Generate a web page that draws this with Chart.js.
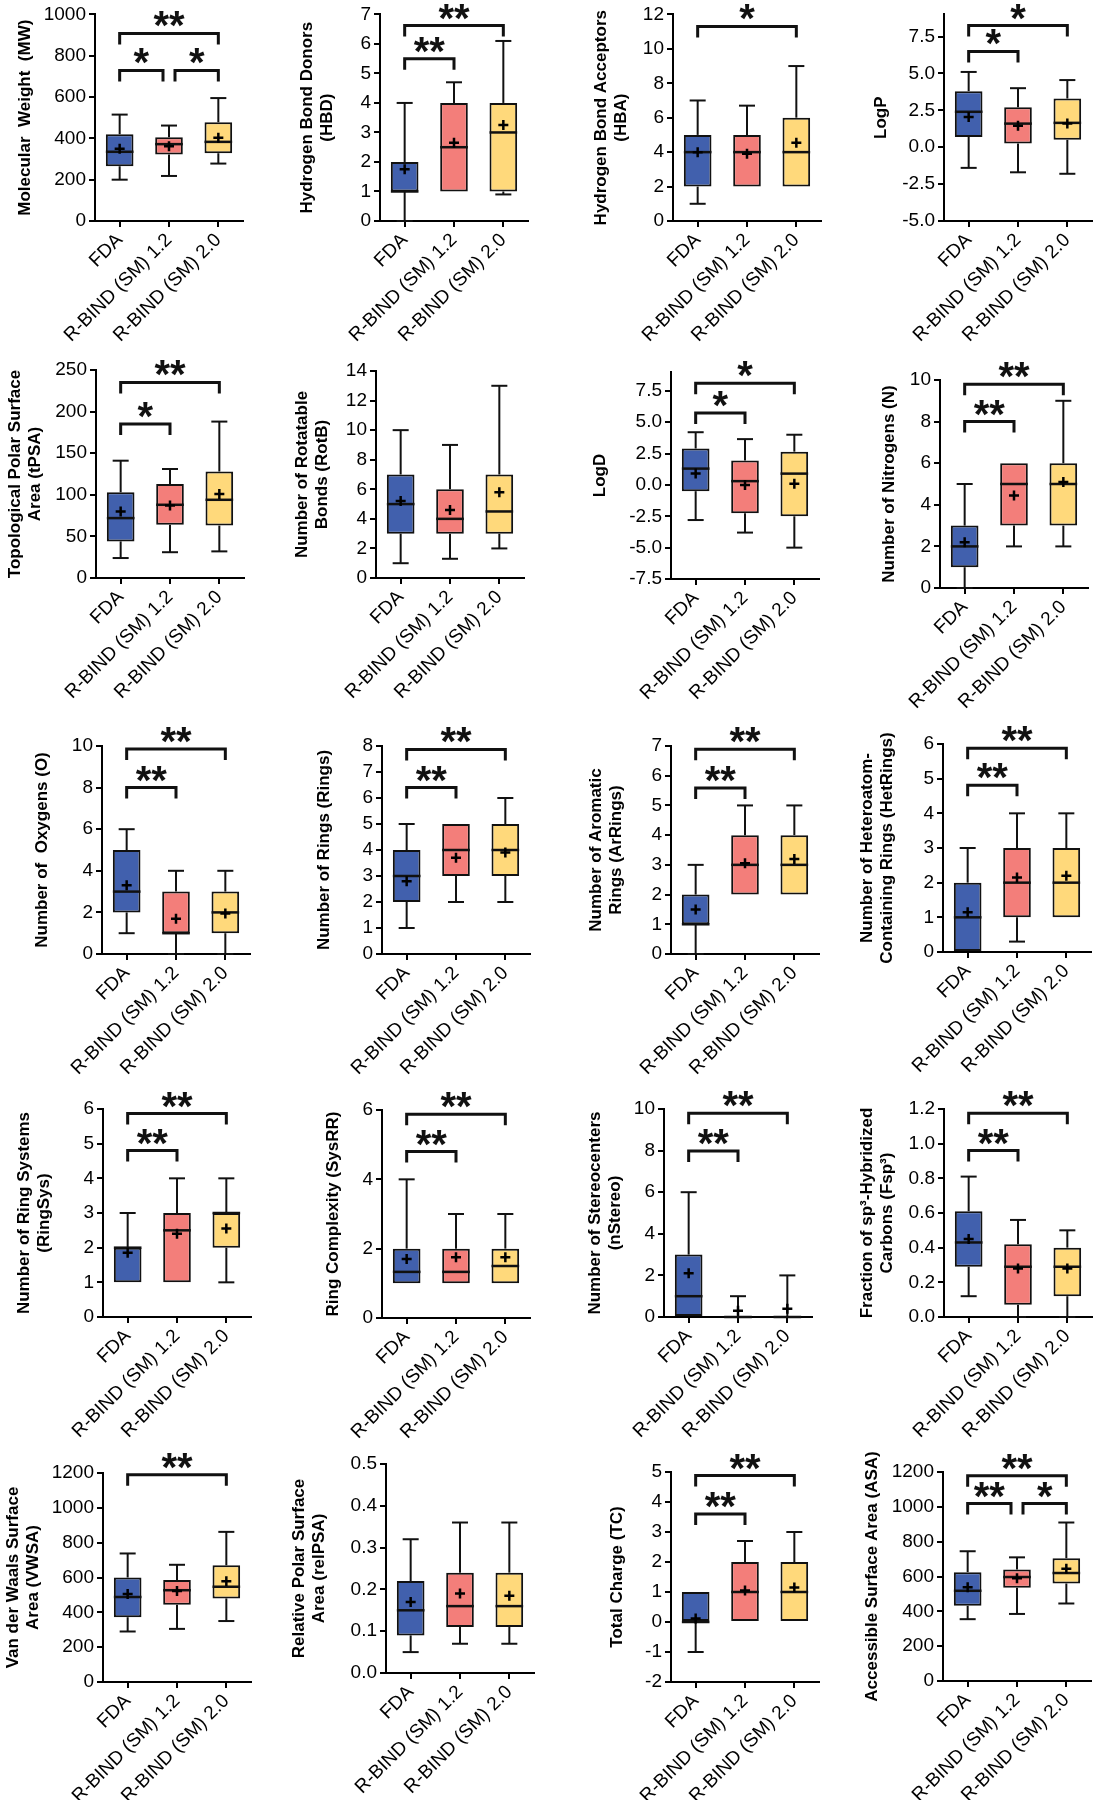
<!DOCTYPE html>
<html>
<head>
<meta charset="utf-8">
<script src="https://cdn.jsdelivr.net/npm/chart.js@4.4.1/dist/chart.umd.min.js"></script>
<style>
  body { margin: 0; background: #fff; }
  #page { position: relative; width: 1096px; height: 1800px; overflow: hidden; }
  #page canvas { position: absolute; }
</style>
</head>
<body>
<div id="page"></div>
<script>
const categories = ['FDA', 'R-BIND (SM) 1.2', 'R-BIND (SM) 2.0'];

// each group: [min, q1, median, q3, max]; sig: [from, to, bracket value, stars]
const mwStats = [[200, 265, 335, 420, 515], [218, 322, 372, 405, 462], [278, 328, 383, 478, 595]];
const mwMeans = [350, 362, 403];
const mwTicks = [0, 200, 400, 600, 800, 1000];
const mwSig = [[0, 1, 729, '*'], [1, 2, 729, '*'], [0, 2, 908, '**']];

const hbdStats = [[0, 1, 1, 2, 4], [1, 1, 2.5, 4, 4.7], [0.9, 1, 3, 4, 6.1]];
const hbdMeans = [1.75, 2.65, 3.25];
const hbdTicks = [0, 1, 2, 3, 4, 5, 6, 7];
const hbdSig = [[0, 1, 5.5, '**'], [0, 2, 6.62, '**']];

const hbaStats = [[1, 2, 4, 5, 7], [2, 2, 4, 5, 6.7], [2, 2, 4, 6, 9]];
const hbaMeans = [4.0, 3.9, 4.55];
const hbaTicks = [0, 2, 4, 6, 8, 10, 12];
const hbaSig = [[0, 2, 11.3, '*']];

const logpStats = [[-1.4, 0.7, 2.4, 3.8, 5.1], [-1.7, 0.25, 1.6, 2.7, 4.0], [-1.8, 0.5, 1.65, 3.3, 4.55]];
const logpMeans = [2.05, 1.45, 1.6];
const logpTicks = [-5, -2.5, 0, 2.5, 5, 7.5];
const logpRange = [-5, 9];
const logpSig = [[0, 1, 6.49, '*'], [0, 2, 8.24, '*']];

const tpsaStats = [[24, 44, 72, 103, 141], [31, 64, 88, 113, 131], [32, 63, 94, 128, 188]];
const tpsaMeans = [80, 87, 101];
const tpsaTicks = [0, 50, 100, 150, 200, 250];
const tpsaSig = [[0, 1, 185, '*'], [0, 2, 235, '**']];

const rotbStats = [[1, 3, 5, 7, 10], [1.3, 3, 4, 6, 9], [2, 3, 4.5, 7, 13]];
const rotbMeans = [5.2, 4.6, 5.8];
const rotbTicks = [0, 2, 4, 6, 8, 10, 12, 14];
const rotbSig = [];

const logdStats = [[-2.8, -0.5, 1.3, 2.9, 4.2], [-3.8, -2.25, 0.3, 1.95, 3.65], [-5.0, -2.5, 0.9, 2.65, 4.0]];
const logdMeans = [0.9, 0.0, 0.1];
const logdTicks = [-7.5, -5, -2.5, 0, 2.5, 5, 7.5];
const logdRange = [-7.5, 9];
const logdSig = [[0, 1, 5.73, '*'], [0, 2, 8.1, '*']];

const nStats = [[0, 1, 2, 3, 5], [2, 3, 5, 6, 6], [2, 3, 5, 6, 9]];
const nMeans = [2.2, 4.45, 5.1];
const nTicks = [0, 1, 2, 3, 4, 5, 6, 7, 8, 9, 10];
const nSig = [[0, 1, 8.0, '**'], [0, 2, 9.8, '**']];

const oStats = [[1, 2, 3, 5, 6], [0, 1, 1, 3, 4], [0, 1, 2, 3, 4]];
const oMeans = [3.3, 1.7, 1.95];
const oTicks = [0, 2, 4, 6, 8, 10];
const oSig = [[0, 1, 8.0, '**'], [0, 2, 9.86, '**']];

const ringsStats = [[1, 2, 3, 4, 5], [2, 3, 4, 5, 5], [2, 3, 4, 5, 6]];
const ringsMeans = [2.8, 3.7, 3.9];
const ringsTicks = [0, 1, 2, 3, 4, 5, 6, 7, 8];
const ringsSig = [[0, 1, 6.4, '**'], [0, 2, 7.87, '**']];

const arStats = [[0, 1, 1, 2, 3], [2, 2, 3, 4, 5], [2, 2, 3, 4, 5]];
const arMeans = [1.5, 3.05, 3.2];
const arTicks = [0, 1, 2, 3, 4, 5, 6, 7];
const arSig = [[0, 1, 5.59, '**'], [0, 2, 6.89, '**']];

const hetStats = [[0, 0, 1, 2, 3], [0.3, 1, 2, 3, 4], [1, 1, 2, 3, 4]];
const hetMeans = [1.15, 2.15, 2.2];
const hetTicks = [0, 1, 2, 3, 4, 5, 6];
const hetSig = [[0, 1, 4.81, '**'], [0, 2, 5.88, '**']];

const rsysStats = [[1, 1, 2, 2, 3], [1, 1, 2.5, 3, 4], [1, 2, 3, 3, 4]];
const rsysMeans = [1.85, 2.4, 2.55];
const rsysTicks = [0, 1, 2, 3, 4, 5, 6];
const rsysSig = [[0, 1, 4.8, '**'], [0, 2, 5.87, '**']];

const sysrrStats = [[1, 1, 1.33, 2, 4], [1, 1, 1.33, 2, 3], [1, 1, 1.5, 2, 3]];
const sysrrMeans = [1.7, 1.75, 1.75];
const sysrrTicks = [0, 2, 4, 6];
const sysrrSig = [[0, 1, 4.8, '**'], [0, 2, 5.88, '**']];

const stereoStats = [[0, 0, 1, 3, 6], [0, 0, 0, 0, 1], [0, 0, 0, 0, 2]];
const stereoMeans = [2.1, 0.3, 0.4];
const stereoTicks = [0, 2, 4, 6, 8, 10];
const stereoSig = [[0, 1, 7.98, '**'], [0, 2, 9.8, '**']];

const fspStats = [[0.12, 0.29, 0.43, 0.61, 0.81], [0, 0.07, 0.29, 0.42, 0.56], [0, 0.12, 0.29, 0.4, 0.5]];
const fspMeans = [0.45, 0.28, 0.28];
const fspTicks = [0, 0.2, 0.4, 0.6, 0.8, 1.0, 1.2];
const fspSig = [[0, 1, 0.96, '**'], [0, 2, 1.175, '**']];

const vwsaStats = [[290, 372, 488, 600, 738], [305, 443, 527, 585, 673], [350, 480, 547, 670, 862]];
const vwsaMeans = [505, 522, 578];
const vwsaTicks = [0, 200, 400, 600, 800, 1000, 1200];
const vwsaSig = [[0, 2, 1190, '**']];

const relpsaStats = [[0.05, 0.09, 0.15, 0.22, 0.32], [0.07, 0.11, 0.16, 0.24, 0.36], [0.07, 0.11, 0.16, 0.24, 0.36]];
const relpsaMeans = [0.17, 0.19, 0.185];
const relpsaTicks = [0, 0.1, 0.2, 0.3, 0.4, 0.5];
const relpsaSig = [];

const tcStats = [[-1, 0, 0, 1, 1], [0, 0, 1, 2, 2.7], [0, 0, 1, 2, 3]];
const tcMeans = [0.12, 1.05, 1.15];
const tcTicks = [-2, -1, 0, 1, 2, 3, 4, 5];
const tcSig = [[0, 1, 3.6, '**'], [0, 2, 4.88, '**']];

const asaStats = [[355, 432, 518, 625, 745], [385, 535, 597, 640, 710], [445, 560, 620, 705, 910]];
const asaMeans = [538, 590, 645];
const asaTicks = [0, 200, 400, 600, 800, 1000, 1200];
const asaSig = [[0, 1, 1019, '**'], [1, 2, 1019, '*'], [0, 2, 1178, '**']];

const panels = [
  { title: 'Molecular  Weight  (MW)', stats: mwStats, means: mwMeans, ticks: mwTicks, sig: mwSig, dec: 0 },
  { title: ['Hydrogen Bond Donors', '(HBD)'], stats: hbdStats, means: hbdMeans, ticks: hbdTicks, sig: hbdSig, dec: 0 },
  { title: ['Hydrogen Bond Acceptors', '(HBA)'], stats: hbaStats, means: hbaMeans, ticks: hbaTicks, sig: hbaSig, dec: 0 },
  { title: 'LogP', stats: logpStats, means: logpMeans, ticks: logpTicks, range: logpRange, sig: logpSig, dec: 1 },
  { title: ['Topological Polar Surface', 'Area (tPSA)'], stats: tpsaStats, means: tpsaMeans, ticks: tpsaTicks, sig: tpsaSig, dec: 0 },
  { title: ['Number of Rotatable', 'Bonds (RotB)'], stats: rotbStats, means: rotbMeans, ticks: rotbTicks, sig: rotbSig, dec: 0 },
  { title: 'LogD', stats: logdStats, means: logdMeans, ticks: logdTicks, range: logdRange, sig: logdSig, dec: 1 },
  { title: 'Number of Nitrogens (N)', stats: nStats, means: nMeans, ticks: nTicks, sig: nSig, dec: 0 },
  { title: 'Number of  Oxygens (O)', stats: oStats, means: oMeans, ticks: oTicks, sig: oSig, dec: 0 },
  { title: 'Number of Rings (Rings)', stats: ringsStats, means: ringsMeans, ticks: ringsTicks, sig: ringsSig, dec: 0 },
  { title: ['Number of Aromatic', 'Rings (ArRings)'], stats: arStats, means: arMeans, ticks: arTicks, sig: arSig, dec: 0 },
  { title: ['Number of Heteroatom-', 'Containing Rings (HetRings)'], stats: hetStats, means: hetMeans, ticks: hetTicks, sig: hetSig, dec: 0 },
  { title: ['Number of Ring Systems', '(RingSys)'], stats: rsysStats, means: rsysMeans, ticks: rsysTicks, sig: rsysSig, dec: 0 },
  { title: 'Ring Complexity (SysRR)', stats: sysrrStats, means: sysrrMeans, ticks: sysrrTicks, sig: sysrrSig, dec: 0 },
  { title: ['Number of Stereocenters', '(nStereo)'], stats: stereoStats, means: stereoMeans, ticks: stereoTicks, sig: stereoSig, dec: 0 },
  { title: ['Fraction of sp\u00b3-Hybridized', 'Carbons (Fsp\u00b3)'], stats: fspStats, means: fspMeans, ticks: fspTicks, sig: fspSig, dec: 1 },
  { title: ['Van der Waals Surface', 'Area (VWSA)'], stats: vwsaStats, means: vwsaMeans, ticks: vwsaTicks, sig: vwsaSig, dec: 0 },
  { title: ['Relative Polar Surface', 'Area (relPSA)'], stats: relpsaStats, means: relpsaMeans, ticks: relpsaTicks, sig: relpsaSig, dec: 1 },
  { title: 'Total Charge (TC)', stats: tcStats, means: tcMeans, ticks: tcTicks, sig: tcSig, dec: 0 },
  { title: 'Accessible Surface Area (ASA)', stats: asaStats, means: asaMeans, ticks: asaTicks, sig: asaSig, dec: 0 }
];

// plot area on the page: left, top, right, bottom, left edge of the y title
const plotBoxes = [
  [95, 12, 243, 221, 15], [380, 13, 528, 221, 297], [673, 13, 821, 221, 591], [944, 13, 1092, 221, 871],
  [96, 370, 244, 578, 5], [376, 371, 524, 578, 292], [671, 372, 819, 579, 590], [940, 380, 1088, 588, 879],
  [102, 746, 250, 954, 32], [382, 746, 530, 954, 314], [671, 746, 819, 954, 586], [943, 744, 1091, 952, 857],
  [103, 1109, 251, 1317, 14], [382, 1110, 530, 1318, 323], [664, 1109, 812, 1317, 585], [944, 1109, 1092, 1317, 857],
  [103, 1473, 251, 1682, 3], [386, 1464, 534, 1673, 289], [671, 1472, 819, 1682, 607], [943, 1472, 1091, 1681, 862]
];

const boxColors = ['#4160ad', '#f37e7a', '#ffd97b'];
const ink = '#111';

Chart.defaults.font.family = "'Liberation Sans', Arial, sans-serif";
Chart.defaults.color = '#000';

function seg(ctx, x1, y1, x2, y2) {
  ctx.beginPath();
  ctx.moveTo(x1, y1);
  ctx.lineTo(x2, y2);
  ctx.stroke();
}

// whiskers, medians and significance brackets
function boxExtras(p) {
  return {
    id: 'boxExtras',
    afterDatasetDraw(chart, args) {
      if (args.index !== 0) return;
      const ctx = chart.ctx, ys = chart.scales.y;
      const Y = v => ys.getPixelForValue(v);
      ctx.save();
      ctx.strokeStyle = ink;
      args.meta.data.forEach((bar, i) => {
        const [mn, q1, md, q3, mx] = p.stats[i];
        const hw = bar.width / 2, cw = bar.width * 0.29;
        ctx.lineWidth = 2;
        if (mx > q3) {
          seg(ctx, bar.x, Y(q3), bar.x, Y(mx));
          seg(ctx, bar.x - cw, Y(mx), bar.x + cw, Y(mx));
        }
        if (mn < q1) {
          seg(ctx, bar.x, Y(q1), bar.x, Y(mn));
          seg(ctx, bar.x - cw, Y(mn), bar.x + cw, Y(mn));
        }
        ctx.lineWidth = 2.5;
        seg(ctx, bar.x - hw, Y(md), bar.x + hw, Y(md));
      });
      ctx.restore();
    },
    afterDraw(chart) {
      const ctx = chart.ctx, xs = chart.scales.x, ys = chart.scales.y;
      ctx.save();
      ctx.strokeStyle = ink;
      ctx.fillStyle = ink;
      ctx.lineWidth = 3;
      ctx.font = "bold 40px 'Liberation Sans', Arial, sans-serif";
      ctx.textAlign = 'center';
      ctx.textBaseline = 'alphabetic';
      p.sig.forEach(s => {
        const [a, b, v, label] = s;
        const gapL = p.sig.some(o => o !== s && o[1] === a) ? 6 : 0;
        const gapR = p.sig.some(o => o !== s && o[0] === b) ? 6 : 0;
        const x1 = xs.getPixelForValue(a) + gapL;
        const x2 = xs.getPixelForValue(b) - gapR;
        const y = ys.getPixelForValue(v);
        ctx.beginPath();
        ctx.moveTo(x1, y + 11);
        ctx.lineTo(x1, y);
        ctx.lineTo(x2, y);
        ctx.lineTo(x2, y + 11);
        ctx.stroke();
        const m = ctx.measureText(label);
        ctx.fillText(label, (x1 + x2) / 2, y - 6 - m.actualBoundingBoxDescent);
      });
      ctx.restore();
    }
  };
}

const page = document.getElementById('page');

panels.forEach((p, k) => {
  const [pl, pt, pr, pb, tl] = plotBoxes[k];
  const left = tl - 2;
  const top = Math.max(0, pt - 34);
  const right = pr + 22;
  const bottom = pb + 150;
  const range = p.range || [p.ticks[0], p.ticks[p.ticks.length - 1]];

  const cv = document.createElement('canvas');
  cv.width = right - left;
  cv.height = bottom - top;
  cv.style.left = left + 'px';
  cv.style.top = top + 'px';
  page.appendChild(cv);

  new Chart(cv, {
    type: 'bar',
    data: {
      labels: categories,
      datasets: [
        {
          type: 'bar',
          data: p.stats.map(s => [s[1], s[3]]),
          backgroundColor: boxColors,
          borderColor: ink,
          borderWidth: 2,
          borderSkipped: false,
          barPercentage: 0.56,
          categoryPercentage: 1,
          order: 2
        },
        {
          type: 'line',
          data: p.means,
          showLine: false,
          pointStyle: 'cross',
          pointRadius: 5,
          pointBorderWidth: 2.5,
          pointBorderColor: '#000',
          order: 1
        }
      ]
    },
    options: {
      responsive: false,
      animation: false,
      events: [],
      layout: { padding: { left: 0, top: pt - top, right: right - pr, bottom: 0 } },
      plugins: { legend: { display: false }, tooltip: { enabled: false } },
      scales: {
        x: {
          grid: { drawOnChartArea: false, offset: false, color: '#000', lineWidth: 2, tickLength: 6 },
          border: { color: '#000', width: 2 },
          ticks: { font: { size: 19 }, minRotation: 45, maxRotation: 45, autoSkip: false, padding: 2 },
          afterFit: s => { s.height = bottom - pb; }
        },
        y: {
          min: range[0],
          max: range[1],
          grid: { drawOnChartArea: false, color: '#000', lineWidth: 2, tickLength: 6 },
          border: { color: '#000', width: 2 },
          ticks: { font: { size: 19 }, padding: 3, callback: v => Number(v).toFixed(p.dec) },
          title: { display: true, text: p.title, font: { size: 17, weight: 'bold' }, padding: { top: 2, bottom: 2 } },
          afterBuildTicks: s => { s.ticks = p.ticks.map(v => ({ value: v })); },
          afterFit: s => { s.width = pl - left; }
        }
      }
    },
    plugins: [boxExtras(p)]
  });
});
</script>
</body>
</html>
